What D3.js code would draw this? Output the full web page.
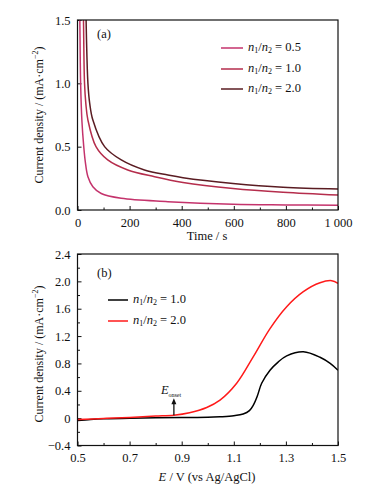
<!DOCTYPE html>
<html><head><meta charset="utf-8">
<script src="https://cdn.jsdelivr.net/npm/d3@7/dist/d3.min.js"></script>
<style>body{margin:0;background:#fff}svg{display:block}text{font-family:"Liberation Serif","DejaVu Serif",serif;fill:#111}</style>
</head><body>
<svg id="c" width="383" height="500"></svg>
<script>
// ---- Panel (a): chronoamperometry ----
const seriesA = ["0.5", "1.0", "2.0"];
const colorsA = ["#c4336c", "#b52d4c", "#5a1c22"];
const timeA05 = [7, 9, 12, 17, 24, 30, 40, 59, 91, 168, 347, 597, 800, 1000];
const valA05  = [1.8, 1.5, 1.0, 0.7, 0.5, 0.38, 0.263, 0.184, 0.13, 0.092, 0.066, 0.045, 0.04, 0.037];
const timeA10 = [21, 23, 27, 32, 40, 71, 116, 193, 296, 405, 597, 789, 1000];
const valA10  = [1.8, 1.5, 1.0, 0.84, 0.71, 0.5, 0.395, 0.316, 0.263, 0.218, 0.17, 0.14, 0.118];
const timeA20 = [31, 33, 40, 47, 59, 104, 168, 257, 347, 405, 597, 789, 1000];
const valA20  = [1.8, 1.5, 1.0, 0.84, 0.71, 0.5, 0.395, 0.316, 0.276, 0.255, 0.21, 0.18, 0.166];
const xTicksA = [0, 200, 400, 600, 800, 1000];
const xTickLabelsA = ["0", "200", "400", "600", "800", "1 000"];
const yTicksA = [0, 0.5, 1.0, 1.5];

// ---- Panel (b): linear sweep ----
const seriesB = ["1.0", "2.0"];
const colorsB = ["#000000", "#ff1a1a"];
const potB10 = [0.5, 0.55, 0.6, 0.7, 0.9, 1.0, 1.047, 1.1, 1.136, 1.16, 1.175, 1.19, 1.207, 1.239, 1.27, 1.303, 1.367, 1.431, 1.47, 1.5];
const valB10 = [-0.035, -0.02, -0.01, 0.0, 0.008, 0.012, 0.02, 0.035, 0.06, 0.11, 0.19, 0.32, 0.51, 0.70, 0.82, 0.91, 0.97, 0.89, 0.80, 0.70];
const potB20 = [0.5, 0.6, 0.7, 0.8, 0.87, 0.93, 0.996, 1.047, 1.111, 1.175, 1.239, 1.303, 1.367, 1.431, 1.476, 1.5];
const valB20 = [-0.02, -0.005, 0.01, 0.03, 0.044, 0.08, 0.156, 0.263, 0.51, 0.90, 1.31, 1.63, 1.85, 1.98, 2.01, 1.97];
const xTicksB = [0.5, 0.7, 0.9, 1.1, 1.3, 1.5];
const xMinorB = [0.6, 0.8, 1.0, 1.2, 1.4];
const yTicksB = [-0.4, 0, 0.4, 0.8, 1.2, 1.6, 2.0, 2.4];
const yMinorB = [-0.2, 0.2, 0.6, 1.0, 1.4, 1.8, 2.2];
const onsetE = 0.87, onsetV = 0.044;

const svg = d3.select("#c");
const L = 77.5, R = 338;
const FS = 12.5;

function frame(g, top, bottom) {
  g.append("rect").attr("x", L).attr("y", top).attr("width", R - L).attr("height", bottom - top)
    .attr("fill", "none").attr("stroke", "#111").attr("stroke-width", 1.2);
}
function legendLabel(g, x, y, val) {
  const t = g.append("text").attr("x", x).attr("y", y).attr("font-size", FS).attr("dominant-baseline", "middle");
  t.append("tspan").attr("font-style", "italic").text("n");
  t.append("tspan").attr("font-size", 8).attr("dy", 3).text("1");
  t.append("tspan").attr("dy", -3).text("/");
  t.append("tspan").attr("font-style", "italic").text("n");
  t.append("tspan").attr("font-size", 8).attr("dy", 3).text("2");
  t.append("tspan").attr("dy", -3).text(" = " + val);
}
function yTitle(g, cy) {
  const t = g.append("text").attr("transform", `translate(43,${cy}) rotate(-90)`)
    .attr("text-anchor", "middle").attr("font-size", 12);
  t.append("tspan").text("Current density / (mA\u00b7cm");
  t.append("tspan").attr("font-size", 8).attr("dy", -5).text("\u22122");
  t.append("tspan").attr("dy", 5).text(")");
}
const curve = d3.curveCatmullRom.alpha(0.5);

// ===== Panel (a) =====
{
  const top = 20, bottom = 210;
  const x = d3.scaleLinear().domain([0, 1000]).range([L, R]);
  const y = d3.scaleLinear().domain([0, 1.5]).range([bottom, top]);
  const g = svg.append("g");
  const clip = g.append("clipPath").attr("id", "clipA");
  clip.append("rect").attr("x", L).attr("y", top).attr("width", R - L).attr("height", bottom - top);

  const ax = d3.axisBottom(x).tickValues(xTicksA).tickSizeInner(-4).tickSizeOuter(0)
    .tickFormat((d, i) => xTickLabelsA[i]).tickPadding(8);
  const gx = g.append("g").attr("transform", `translate(0,${bottom})`).call(ax);
  const axm = d3.axisBottom(x).tickValues([100, 300, 500, 700, 900]).tickSize(-2.5).tickFormat("");
  const gxm = g.append("g").attr("transform", `translate(0,${bottom})`).call(axm);
  const ay = d3.axisLeft(y).tickValues(yTicksA).tickSizeInner(-4).tickSizeOuter(0)
    .tickFormat(d3.format(".1f")).tickPadding(7);
  const gy = g.append("g").attr("transform", `translate(${L},0)`).call(ay);
  [gx, gxm, gy].forEach(a => { a.select(".domain").remove(); a.selectAll("text").attr("font-size", FS).attr("font-family", "Liberation Serif").attr("fill", "#111"); a.selectAll("line").attr("stroke", "#111"); });

  const line = d3.line().x(d => x(d[0])).y(d => y(d[1])).curve(curve);
  const data = [d3.zip(timeA05, valA05), d3.zip(timeA10, valA10), d3.zip(timeA20, valA20)];
  data.forEach((d, i) => {
    g.append("path").attr("d", line(d)).attr("fill", "none").attr("stroke", colorsA[i])
      .attr("stroke-width", 1.5).attr("clip-path", "url(#clipA)");
  });
  frame(g, top, bottom);
  g.append("text").attr("x", 97).attr("y", 38).attr("font-size", FS).text("(a)");
  const ly = [48, 69, 89];
  seriesA.forEach((s, i) => {
    g.append("line").attr("x1", 221).attr("x2", 243).attr("y1", ly[i]).attr("y2", ly[i])
      .attr("stroke", colorsA[i]).attr("stroke-width", 1.5);
    legendLabel(g, 248, ly[i], s);
  });
  yTitle(g, 115);
  g.append("text").attr("x", 207).attr("y", 240).attr("text-anchor", "middle").attr("font-size", FS).text("Time / s");
}

// ===== Panel (b) =====
{
  const top = 254, bottom = 445.5;
  const x = d3.scaleLinear().domain([0.5, 1.5]).range([L, R]);
  const y = d3.scaleLinear().domain([-0.4, 2.4]).range([bottom, top]);
  const g = svg.append("g");
  const clip = g.append("clipPath").attr("id", "clipB");
  clip.append("rect").attr("x", L).attr("y", top).attr("width", R - L).attr("height", bottom - top);

  const ax = d3.axisBottom(x).tickValues(xTicksB).tickSizeInner(-4).tickSizeOuter(0)
    .tickFormat(d3.format(".1f")).tickPadding(8);
  const gx = g.append("g").attr("transform", `translate(0,${bottom})`).call(ax);
  const axm = d3.axisBottom(x).tickValues(xMinorB).tickSize(-2.5).tickFormat("");
  const gxm = g.append("g").attr("transform", `translate(0,${bottom})`).call(axm);
  const ay = d3.axisLeft(y).tickValues(yTicksB).tickSizeInner(-4).tickSizeOuter(0)
    .tickFormat(d => d === 0 ? "0" : d3.format(".1f")(d).replace("-", "\u2212")).tickPadding(7);
  const gy = g.append("g").attr("transform", `translate(${L},0)`).call(ay);
  const aym = d3.axisLeft(y).tickValues(yMinorB).tickSize(-2.5).tickFormat("");
  const gym = g.append("g").attr("transform", `translate(${L},0)`).call(aym);
  [gx, gxm, gy, gym].forEach(a => { a.select(".domain").remove(); a.selectAll("text").attr("font-size", FS).attr("font-family", "Liberation Serif").attr("fill", "#111"); a.selectAll("line").attr("stroke", "#111"); });

  const line = d3.line().x(d => x(d[0])).y(d => y(d[1])).curve(curve);
  const data = [d3.zip(potB10, valB10), d3.zip(potB20, valB20)];
  data.forEach((d, i) => {
    g.append("path").attr("d", line(d)).attr("fill", "none").attr("stroke", colorsB[i])
      .attr("stroke-width", 1.5).attr("clip-path", "url(#clipB)");
  });
  frame(g, top, bottom);
  g.append("text").attr("x", 97).attr("y", 277).attr("font-size", FS).text("(b)");
  const ly = [300, 321];
  seriesB.forEach((s, i) => {
    g.append("line").attr("x1", 108).attr("x2", 128).attr("y1", ly[i]).attr("y2", ly[i])
      .attr("stroke", colorsB[i]).attr("stroke-width", 1.5);
    legendLabel(g, 133, ly[i], s);
  });
  // E_onset arrow
  const ax0 = x(onsetE), ay0 = y(onsetV);
  g.append("line").attr("x1", ax0).attr("x2", ax0).attr("y1", ay0).attr("y2", ay0 - 12)
    .attr("stroke", "#111").attr("stroke-width", 1.3);
  g.append("path").attr("d", `M${ax0 - 2.5},${ay0 - 11} L${ax0},${ay0 - 17} L${ax0 + 2.5},${ay0 - 11} Z`).attr("fill", "#111");
  const et = g.append("text").attr("x", ax0 - 13).attr("y", ay0 - 21).attr("font-size", FS);
  et.append("tspan").attr("font-style", "italic").text("E");
  et.append("tspan").attr("font-size", 6).attr("dy", 3).text("onset");
  yTitle(g, 354);
  const xt = g.append("text").attr("x", 207).attr("y", 481).attr("text-anchor", "middle").attr("font-size", FS);
  xt.append("tspan").attr("font-style", "italic").text("E");
  xt.append("tspan").text(" / V (vs Ag/AgCl)");
}
</script>
</body></html>
